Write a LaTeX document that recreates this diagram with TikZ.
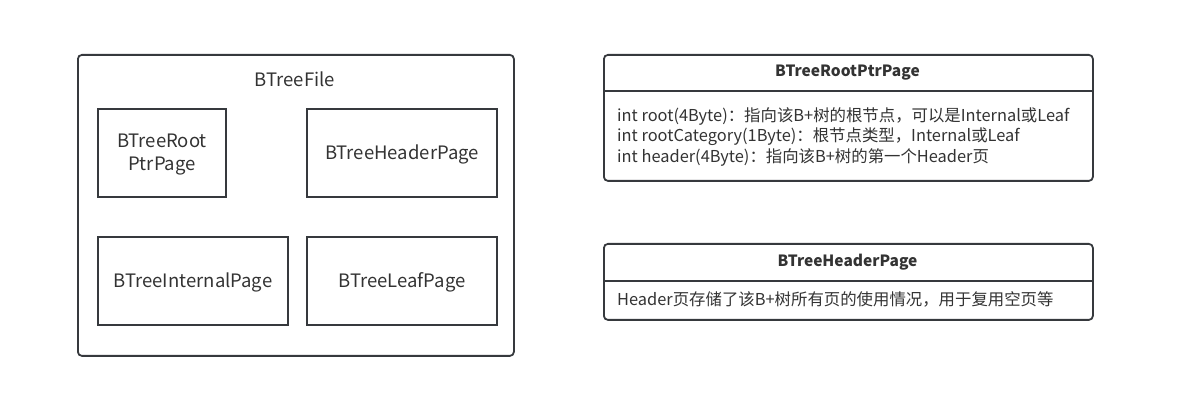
\documentclass[tikz,border=0pt]{standalone}
\usepackage{fontspec}
\setmainfont{Noto Sans CJK SC}
\usetikzlibrary{positioning}
\definecolor{edge}{HTML}{36393D}
\definecolor{ink}{HTML}{333333}
\tikzset{
  page/.style={draw=edge,line width=1.8pt,minimum width=#1,minimum height=88pt,inner sep=0pt,
    text=ink,font=\fontsize{18.5}{23}\selectfont,align=center,text depth=2pt},
  container/.style={draw=edge,line width=1.8pt,rounded corners=4pt,inner sep=0pt,anchor=north west},
  title/.style={text=ink,font=\fontsize{15.5}{18}\selectfont\bfseries},
  fields/.style={text=ink,font=\fontsize{16.4}{20.5}\selectfont,align=left,anchor=north west,inner sep=0pt}
}
\begin{document}
\begin{tikzpicture}[x=1pt,y=-1pt]
  \useasboundingbox (0,0) rectangle (1179,411);
  % left: file with its pages
  \node[container,minimum width=436pt,minimum height=301pt] (file) at (77,54) {};
  \node[text=ink,font=\fontsize{18.5}{22}\selectfont] (filename) at (295,79) {BTreeFile};
  \node[page=128pt] (rootptr) at (162,153) {BTreeRoot\\PtrPage};
  \node[page=190pt] (header) at (402,153) {BTreeHeaderPage};
  \node[page=190pt] (internal) at (193,281) {BTreeInternalPage};
  \node[page=190pt] (leaf) at (402,281) {BTreeLeafPage};
  % right: root pointer page layout
  \node[container,minimum width=489pt,minimum height=126pt] (rootbox) at (603,54) {};
  \node[title] (roottitle) at (847.5,73) {BTreeRootPtrPage};
  \draw[edge,line width=1.8pt] (rootbox.west |- 0,91) -- (rootbox.east |- 0,91);
  \node[fields] (rootfields) at (617,107) {int root(4Byte)：指向该B+树的根节点，可以是Internal或Leaf\\
    int rootCategory(1Byte)：根节点类型，Internal或Leaf\\
    int header(4Byte)：指向该B+树的第一个Header页};
  % right: header page layout
  \node[container,minimum width=489pt,minimum height=76pt] (headbox) at (603,243) {};
  \node[title] (headtitle) at (847.5,262) {BTreeHeaderPage};
  \draw[edge,line width=1.8pt] (headbox.west |- 0,281) -- (headbox.east |- 0,281);
  \node[fields] (headfields) at (617,291) {Header页存储了该B+树所有页的使用情况，用于复用空页等};
\end{tikzpicture}
\end{document}
